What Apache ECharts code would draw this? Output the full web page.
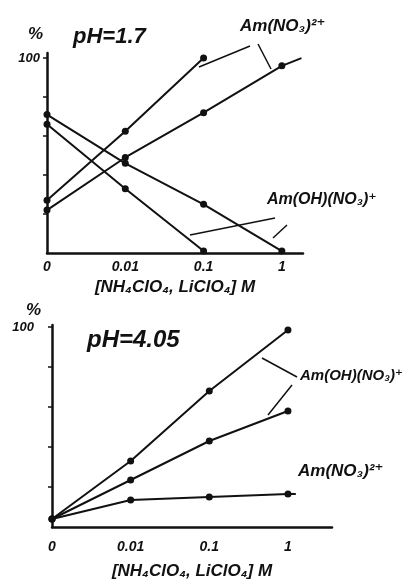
<!DOCTYPE html>
<html><head><meta charset="utf-8">
<script src="https://cdn.jsdelivr.net/npm/echarts@6/dist/echarts.min.js"></script>
<style>html,body{margin:0;padding:0;background:#fff}#c{width:412px;height:580px}</style>
</head><body><div id="c"></div>
<script>
// concentration steps, evenly spaced along the x axis
const concLabels = ['0', '0.01', '0.1', '1'];

// pH = 1.7 panel (% of species)
const topNo3A = [27, 62.5, 100];
const topNo3B = [22, 49, 72, 96];
const topNo3BEnd = [3.25, 100];
const topOhA = [66, 33, 1];
const topOhB = [71, 46, 25, 1];

// pH = 4.05 panel (% of species)
const botOhA = [4, 33, 68, 98.5];
const botOhB = [4, 23.5, 43, 58];
const botNo3 = [4, 13.5, 15, 16.5];
const botNo3End = [3.1, 16.5];

const ink = '#111';
const hand = { fontFamily: 'Liberation Sans, DejaVu Sans, sans-serif', fontStyle: 'italic', fontWeight: 'bold', color: ink };

function pts(vals, end) {
  const d = vals.map((v, i) => [i, v]);
  if (end) d.push({ value: end, symbol: 'none' });
  return d;
}
function line(data, idx) {
  return {
    type: 'line', xAxisIndex: idx, yAxisIndex: idx, data: data,
    symbol: 'circle', symbolSize: 7, showAllSymbol: true,
    lineStyle: { color: ink, width: 2 }, itemStyle: { color: ink },
    animation: false, silent: true
  };
}
function xAx(idx, max, margin, gap) {
  return {
    type: 'value', gridIndex: idx, min: 0, max: max,
    axisLine: { lineStyle: { color: ink, width: 2.5 } },
    axisTick: { show: false }, splitLine: { show: false },
    axisLabel: Object.assign({ customValues: [0, 1, 2, 3], formatter: v => concLabels[v], fontSize: 14, margin: margin }, hand),
    name: '[NH₄ClO₄, LiClO₄] M', nameLocation: 'middle', nameGap: gap,
    nameTextStyle: Object.assign({ fontSize: 17 }, hand)
  };
}
function yAx(idx, max, margin) {
  return {
    type: 'value', gridIndex: idx, min: 0, max: max,
    axisLine: { show: true, lineStyle: { color: ink, width: 2.5 } },
    axisTick: { show: true, customValues: [20, 40, 60, 80, 100], length: 4, lineStyle: { color: ink, width: 1.5 } },
    splitLine: { show: false },
    axisLabel: Object.assign({ customValues: [100], formatter: v => String(v), fontSize: 13, margin: margin }, hand)
  };
}
function txt(x, y, s, size) {
  return { type: 'text', left: x, top: y, style: { text: s, fontSize: size, fill: ink, fontFamily: hand.fontFamily, fontStyle: 'italic', fontWeight: 'bold' } };
}
function seg(x1, y1, x2, y2) {
  return { type: 'line', shape: { x1, y1, x2, y2 }, style: { stroke: ink, lineWidth: 1.5 } };
}

const chart = echarts.init(document.getElementById('c'));
chart.setOption({
  backgroundColor: '#fff',
  animation: false,
  grid: [
    { left: 47, top: 53, width: 256, height: 200, outerBoundsMode: 'none', containLabel: false },
    { left: 52, top: 325, width: 280, height: 202, outerBoundsMode: 'none', containLabel: false }
  ],
  xAxis: [xAx(0, 3.27, 7, 26), xAx(1, 3.56, 13, 36)],
  yAxis: [yAx(0, 102.6, 7), yAx(1, 101, 18)],
  series: [
    line(pts(topNo3A), 0),
    line(pts(topNo3B, topNo3BEnd), 0),
    line(pts(topOhA), 0),
    line(pts(topOhB), 0),
    line(pts(botOhA), 1),
    line(pts(botOhB), 1),
    line(pts(botNo3, botNo3End), 1)
  ],
  graphic: [
    txt(28, 26, '%', 17),
    txt(73, 26, 'pH=1.7', 22),
    txt(240, 18, 'Am(NO₃)²⁺', 17),
    seg(199, 67, 250, 46),
    seg(258, 44, 271, 69),
    txt(267, 192, 'Am(OH)(NO₃)⁺', 16),
    seg(190, 235, 275, 218),
    seg(273, 238, 287, 225),
    txt(26, 302, '%', 17),
    txt(87, 328, 'pH=4.05', 24),
    txt(300, 368, 'Am(OH)(NO₃)⁺', 15),
    seg(262, 358, 297, 377),
    seg(292, 385, 268, 415),
    txt(298, 463, 'Am(NO₃)²⁺', 17)
  ]
});
</script>
</body></html>
